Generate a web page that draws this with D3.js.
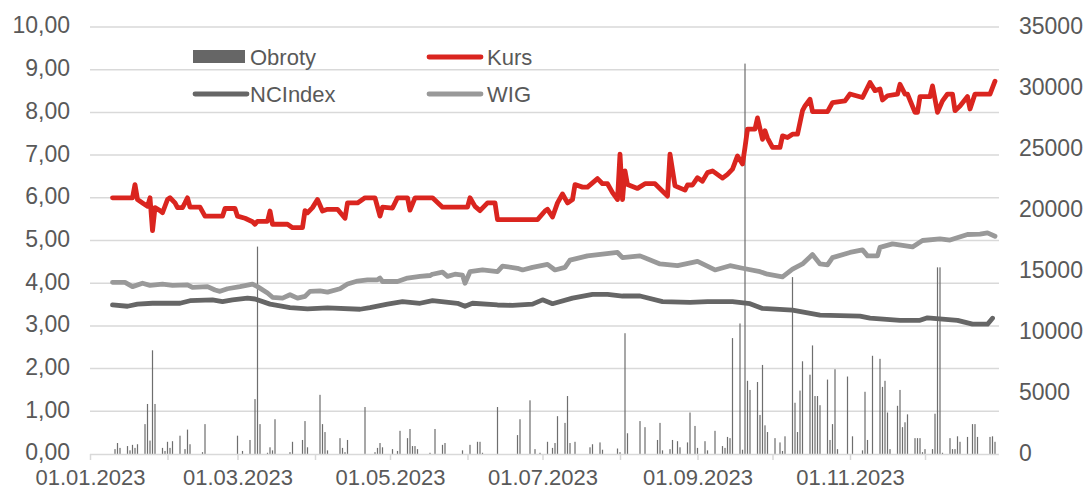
<!DOCTYPE html>
<html>
<head>
<meta charset="utf-8">
<script src="https://d3js.org/d3.v7.min.js"></script>
<style>
  body { margin: 0; background: #fff; }
  text { font-family: "Liberation Sans", Arial, sans-serif; fill: #595959; }
</style>
</head>
<body>
<svg width="1088" height="490"></svg>
<script>
// Kurs (left axis), daty w 2023
var kurs = [["01-10",6.00],["01-18",6.00],["01-19",6.31],["01-20",5.96],["01-22",5.88],["01-24",5.80],["01-25",6.00],["01-26",5.23],["01-27",5.77],["01-29",5.70],["01-30",5.65],["02-01",5.96],["02-02",6.00],["02-04",5.88],["02-05",5.77],["02-07",5.77],["02-08",5.88],["02-09",6.00],["02-10",5.78],["02-14",5.78],["02-16",5.57],["02-23",5.57],["02-24",5.75],["02-28",5.75],["03-01",5.57],["03-04",5.52],["03-07",5.44],["03-08",5.38],["03-09",5.45],["03-13",5.45],["03-14",5.69],["03-15",5.38],["03-21",5.38],["03-23",5.30],["03-27",5.30],["03-28",5.70],["03-29",5.65],["03-31",5.77],["04-02",5.96],["04-04",5.69],["04-06",5.73],["04-10",5.73],["04-13",5.52],["04-14",5.88],["04-18",5.88],["04-19",5.92],["04-21",6.00],["04-25",6.00],["04-27",5.57],["04-28",5.78],["05-02",5.76],["05-04",6.00],["05-08",6.00],["05-09",5.71],["05-11",6.00],["05-18",6.00],["05-22",5.78],["06-01",5.78],["06-02",6.00],["06-04",5.80],["06-06",5.70],["06-09",5.88],["06-12",5.88],["06-13",5.49],["06-29",5.49],["07-02",5.69],["07-03",5.73],["07-05",5.55],["07-07",5.88],["07-09",6.09],["07-11",5.88],["07-13",5.96],["07-14",6.31],["07-17",6.25],["07-19",6.25],["07-21",6.35],["07-23",6.45],["07-25",6.33],["07-27",6.33],["07-29",6.12],["07-31",5.96],["08-01",7.02],["08-02",5.96],["08-03",6.63],["08-04",6.31],["08-08",6.22],["08-11",6.33],["08-15",6.33],["08-20",6.04],["08-21",7.02],["08-23",6.28],["08-27",6.18],["08-28",6.30],["08-30",6.30],["09-01",6.47],["09-03",6.39],["09-05",6.59],["09-07",6.63],["09-11",6.46],["09-13",6.55],["09-15",6.67],["09-17",6.98],["09-19",6.79],["09-20",7.18],["09-21",7.61],["09-24",7.61],["09-25",7.87],["09-27",7.37],["09-28",7.57],["09-29",7.40],["10-01",7.18],["10-04",7.18],["10-05",7.45],["10-07",7.41],["10-09",7.49],["10-11",7.49],["10-13",8.04],["10-14",8.15],["10-16",8.31],["10-17",8.02],["10-23",8.02],["10-25",8.23],["10-30",8.27],["11-01",8.43],["11-06",8.35],["11-09",8.70],["11-11",8.51],["11-13",8.55],["11-14",8.29],["11-16",8.39],["11-20",8.43],["11-21",8.66],["11-23",8.43],["11-24",8.43],["11-27",8.00],["11-28",8.00],["11-29",8.37],["12-03",8.37],["12-04",8.62],["12-06",8.00],["12-08",8.27],["12-10",8.43],["12-12",8.43],["12-13",8.04],["12-15",8.15],["12-18",8.37],["12-19",8.08],["12-21",8.43],["12-27",8.43],["12-29",8.73]];

// WIG (przeskalowany, left axis)
var wig = [["01-10",4.02],["01-15",4.02],["01-18",3.92],["01-22",4.00],["01-25",3.95],["01-30",3.98],["02-03",3.95],["02-09",3.96],["02-11",3.90],["02-17",3.92],["02-20",3.84],["02-22",3.81],["02-25",3.87],["03-02",3.92],["03-07",3.98],["03-09",3.92],["03-13",3.77],["03-15",3.67],["03-19",3.65],["03-22",3.73],["03-25",3.65],["03-28",3.69],["03-30",3.81],["04-03",3.82],["04-06",3.79],["04-11",3.87],["04-14",3.98],["04-18",4.05],["04-22",4.08],["04-26",4.08],["04-27",4.12],["04-28",4.04],["05-04",4.04],["05-08",4.12],["05-13",4.16],["05-17",4.18],["05-18",4.21],["05-22",4.26],["05-24",4.16],["05-27",4.21],["05-30",4.19],["05-31",4.00],["06-02",4.27],["06-07",4.31],["06-13",4.27],["06-15",4.40],["06-21",4.35],["06-23",4.31],["06-27",4.37],["07-03",4.44],["07-06",4.31],["07-10",4.37],["07-12",4.54],["07-19",4.64],["07-25",4.68],["07-31",4.72],["08-02",4.60],["08-09",4.64],["08-17",4.45],["08-24",4.41],["09-01",4.51],["09-08",4.31],["09-14",4.41],["09-19",4.35],["09-26",4.27],["09-29",4.21],["10-05",4.15],["10-09",4.33],["10-13",4.45],["10-17",4.67],["10-20",4.45],["10-23",4.43],["10-25",4.60],["11-01",4.72],["11-06",4.78],["11-08",4.64],["11-12",4.64],["11-13",4.84],["11-18",4.92],["11-26",4.85],["11-30",5.00],["12-07",5.04],["12-11",5.01],["12-18",5.14],["12-23",5.15],["12-26",5.18],["12-29",5.10]];

// NCIndex (przeskalowany, left axis)
var ncindex = [["01-10",3.49],["01-16",3.46],["01-20",3.51],["01-26",3.53],["02-06",3.53],["02-10",3.59],["02-19",3.61],["02-23",3.57],["02-27",3.61],["03-05",3.65],["03-08",3.63],["03-14",3.51],["03-22",3.43],["03-29",3.40],["04-06",3.42],["04-19",3.39],["04-23",3.43],["04-30",3.51],["05-06",3.57],["05-13",3.53],["05-18",3.59],["05-28",3.53],["05-31",3.46],["06-03",3.53],["06-13",3.49],["06-19",3.48],["06-27",3.51],["07-01",3.61],["07-05",3.52],["07-13",3.65],["07-21",3.74],["07-27",3.74],["08-02",3.70],["08-09",3.70],["08-18",3.57],["08-29",3.55],["09-05",3.57],["09-15",3.57],["09-22",3.52],["09-27",3.41],["10-09",3.37],["10-20",3.25],["11-05",3.23],["11-09",3.18],["11-21",3.13],["11-29",3.13],["12-02",3.19],["12-14",3.13],["12-20",3.04],["12-26",3.04],["12-28",3.18]];

// Obroty (right axis)
var obroty = [["01-11",400],["01-12",900],["01-13",500],["01-16",650],["01-17",300],["01-18",750],["01-19",500],["01-20",800],["01-23",2450],["01-24",4100],["01-25",1100],["01-26",8500],["01-27",4100],["01-30",500],["01-31",250],["02-01",1000],["02-02",500],["02-03",1050],["02-06",1500],["02-08",400],["02-09",2000],["02-10",800],["02-15",150],["02-16",2450],["03-01",1500],["03-03",250],["03-06",1150],["03-08",4500],["03-09",17000],["03-10",2450],["03-13",100],["03-14",550],["03-15",300],["03-16",2850],["03-22",150],["03-23",1000],["03-27",1150],["03-28",2700],["03-29",550],["04-03",4850],["04-04",2450],["04-05",1800],["04-06",300],["04-11",1300],["04-12",500],["04-13",150],["04-14",1150],["04-21",3850],["04-25",150],["04-26",500],["04-27",900],["04-28",550],["05-02",400],["05-04",250],["05-05",1900],["05-08",1300],["05-09",2050],["05-10",650],["05-11",650],["05-12",400],["05-17",100],["05-19",2050],["05-22",750],["05-23",900],["05-30",300],["06-02",750],["06-05",1000],["06-06",1000],["06-07",100],["06-13",3850],["06-21",1550],["06-22",2850],["06-26",4400],["06-28",400],["06-30",100],["07-03",1000],["07-05",500],["07-06",900],["07-07",3100],["07-10",2550],["07-11",4750],["07-12",900],["07-14",1000],["07-20",550],["07-21",800],["07-24",950],["07-25",350],["07-31",450],["08-01",150],["08-03",9900],["08-04",1700],["08-09",2700],["08-11",2200],["08-16",1150],["08-17",2550],["08-18",300],["08-21",400],["08-22",1150],["08-24",1050],["08-25",550],["08-28",950],["08-29",3400],["08-31",2300],["09-01",500],["09-04",1050],["09-05",300],["09-08",1900],["09-11",650],["09-12",500],["09-13",1400],["09-14",1300],["09-15",9500],["09-18",10700],["09-19",350],["09-20",32000],["09-21",6000],["09-22",5250],["09-25",5900],["09-26",3200],["09-27",7300],["09-28",2350],["09-29",1800],["10-02",1300],["10-04",950],["10-05",250],["10-06",1450],["10-09",14500],["10-10",4200],["10-11",1800],["10-12",5200],["10-13",7600],["10-16",6500],["10-17",8900],["10-18",4750],["10-19",4750],["10-20",4000],["10-23",6100],["10-24",1150],["10-25",2450],["10-26",6950],["10-27",400],["10-31",6350],["11-02",1450],["11-06",300],["11-07",5100],["11-08",1150],["11-10",8050],["11-13",7800],["11-14",5500],["11-15",6000],["11-16",3400],["11-17",400],["11-20",3950],["11-21",5250],["11-22",2200],["11-23",2600],["11-24",3250],["11-27",1300],["11-28",1300],["11-29",1300],["11-30",150],["12-01",400],["12-04",400],["12-05",3300],["12-06",15300],["12-07",15300],["12-08",100],["12-11",1300],["12-12",400],["12-13",400],["12-14",1450],["12-15",1000],["12-18",1400],["12-20",2450],["12-21",2450],["12-22",1400],["12-27",1400],["12-28",1450],["12-29",1000]];

var leftTicks = [0, 1, 2, 3, 4, 5, 6, 7, 8, 9, 10];
var rightTicks = [0, 5000, 10000, 15000, 20000, 25000, 30000, 35000];

var parse = d3.timeParse("%Y-%m-%d");
function toDate(s) { return parse("2023-" + s); }

var svg = d3.select("svg");

var x = d3.scaleTime()
    .domain([parse("2023-01-01"), parse("2023-12-31")])
    .range([90, 1000]);

var y = d3.scaleLinear().domain([0, 10]).range([454, 27]);
var y2 = d3.scaleLinear().domain([0, 35000]).range([454, 27]);

// gridlines
svg.append("g")
  .selectAll("line")
  .data(leftTicks.slice(1))
  .enter().append("line")
    .attr("x1", 90)
    .attr("x2", 999)
    .attr("y1", function(d) { return y(d); })
    .attr("y2", function(d) { return y(d); })
    .attr("stroke", "#d9d9d9")
    .attr("stroke-width", 1.5);

// left axis labels
svg.append("g")
  .selectAll("text")
  .data(leftTicks)
  .enter().append("text")
    .attr("x", 70)
    .attr("y", function(d) { return y(d); })
    .attr("dy", "0.28em")
    .attr("text-anchor", "end")
    .style("font-size", "23px")
    .text(function(d) { return d3.format(".2f")(d).replace(".", ","); });

// right axis labels
svg.append("g")
  .selectAll("text")
  .data(rightTicks)
  .enter().append("text")
    .attr("x", 1019)
    .attr("y", function(d) { return y2(d); })
    .attr("dy", "0.3em")
    .attr("text-anchor", "start")
    .style("font-size", "23px")
    .text(function(d) { return d; });

// bars
svg.append("g")
  .selectAll("rect")
  .data(obroty)
  .enter().append("rect")
    .attr("x", function(d) { return x(toDate(d[0])) - 0.6; })
    .attr("width", 1.2)
    .attr("y", function(d) { return y2(d[1]); })
    .attr("height", function(d) { return y2(0) - y2(d[1]); })
    .attr("fill", "#6e6e6e");

// x axis
var xAxis = svg.append("g")
    .attr("transform", "translate(0,454)")
    .call(d3.axisBottom(x)
      .ticks(d3.timeMonth.every(1))
      .tickSize(6)
      .tickFormat(function(d) { return d.getMonth() % 2 == 0 ? d3.timeFormat("%d.%m.%Y")(d) : ""; }));

xAxis.select(".domain")
    .attr("d", "M90,0.5H999")
    .attr("stroke", "#d9d9d9")
    .attr("stroke-width", 1.5);
xAxis.selectAll(".tick line").attr("stroke", "#d9d9d9").attr("stroke-width", 1.5);
xAxis.selectAll(".tick text")
    .attr("y", 31.3)
    .attr("dy", "0")
    .style("font-size", "22px")
    .style("font-family", "Liberation Sans, Arial, sans-serif")
    .attr("fill", "#595959");

var line = d3.line()
    .x(function(d) { return x(toDate(d[0])); })
    .y(function(d) { return y(d[1]); });

var series = [
  { data: ncindex, color: "#666666" },
  { data: wig, color: "#999999" },
  { data: kurs, color: "#da251f" }
];

svg.append("g")
  .selectAll("path")
  .data(series)
  .enter().append("path")
    .attr("d", function(d) { return line(d.data); })
    .attr("fill", "none")
    .attr("stroke", function(d) { return d.color; })
    .attr("stroke-width", 4.8)
    .attr("stroke-linejoin", "round")
    .attr("stroke-linecap", "round");

// legend
var legend = svg.append("g");

legend.append("rect")
    .attr("x", 193).attr("y", 50)
    .attr("width", 52).attr("height", 13)
    .attr("fill", "#666666");

var legendLines = [
  { x: 427, y: 57, color: "#da251f" },
  { x: 193, y: 94, color: "#666666" },
  { x: 427, y: 94, color: "#999999" }
];

legend.selectAll("line")
  .data(legendLines)
  .enter().append("line")
    .attr("x1", function(d) { return d.x + 2; })
    .attr("x2", function(d) { return d.x + 54; })
    .attr("y1", function(d) { return d.y; })
    .attr("y2", function(d) { return d.y; })
    .attr("stroke", function(d) { return d.color; })
    .attr("stroke-width", 4.8)
    .attr("stroke-linecap", "round");

var legendText = [
  { x: 250, y: 57, t: "Obroty" },
  { x: 487, y: 57, t: "Kurs" },
  { x: 250, y: 94, t: "NCIndex" },
  { x: 487, y: 94, t: "WIG" }
];

legend.selectAll("text")
  .data(legendText)
  .enter().append("text")
    .attr("x", function(d) { return d.x; })
    .attr("y", function(d) { return d.y; })
    .attr("dy", "0.36em")
    .style("font-size", "22px")
    .text(function(d) { return d.t; });
</script>
</body>
</html>
